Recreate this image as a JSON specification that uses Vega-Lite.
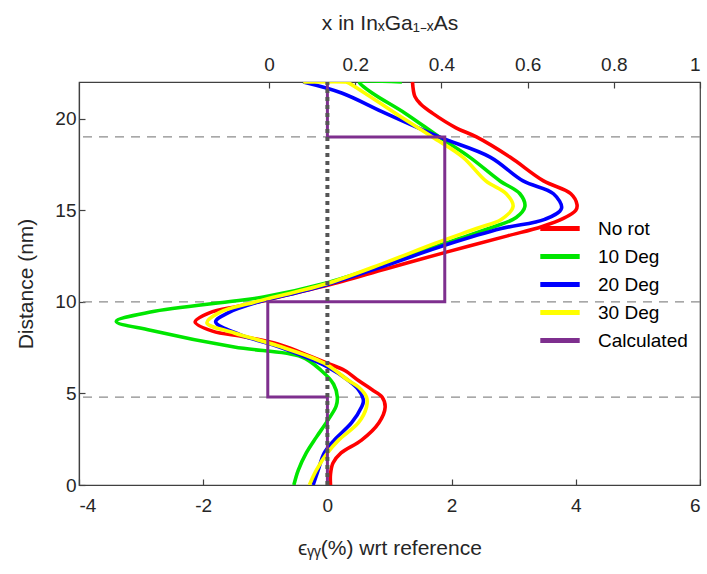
{
  "$schema": "https://vega.github.io/schema/vega-lite/v6.json",
  "width": 621,
  "height": 403,
  "autosize": "none",
  "padding": {"left": 79, "top": 82, "right": 7, "bottom": 89},
  "config": {
    "view": {"stroke": "#404040", "strokeWidth": 1.2},
    "axis": {
      "domainColor": "#404040", "tickColor": "#404040", "labelColor": "#262626", "titleColor": "#262626",
      "labelFont": "Liberation Sans", "titleFont": "Liberation Sans", "labelFontSize": 19, "titleFontSize": 21,
      "titleFontWeight": "normal", "grid": false, "tickSize": -6, "tickWidth": 1.2, "domainWidth": 1.2
    },
    "legend": {
      "orient": "none", "legendX": 468.5, "legendY": 134, "symbolType": "M-1.97,0H1.97", "symbolSize": 400,
      "symbolStrokeWidth": 5, "labelFontSize": 19, "labelFont": "Liberation Sans", "labelColor": "#000000",
      "labelOffset": 25.5, "rowPadding": 5, "padding": 0
    }
  },
  "datasets": {
    "curves": [
      {"s":"No rot","o":0,"x":0.05,"y":0},{"s":"No rot","o":1,"x":0.05,"y":0.6},{"s":"No rot","o":2,"x":0.09,"y":1.2},{"s":"No rot","o":3,"x":0.22,"y":1.75},{"s":"No rot","o":4,"x":0.55,"y":2.45},{"s":"No rot","o":5,"x":0.83,"y":3.4},{"s":"No rot","o":6,"x":0.93,"y":4.25},{"s":"No rot","o":7,"x":0.88,"y":4.8},{"s":"No rot","o":8,"x":0.72,"y":5.2},{"s":"No rot","o":9,"x":0.5,"y":5.7},{"s":"No rot","o":10,"x":0.28,"y":6.25},{"s":"No rot","o":11,"x":0.0,"y":6.65},{"s":"No rot","o":12,"x":-0.4,"y":7.2},{"s":"No rot","o":13,"x":-0.8,"y":7.7},{"s":"No rot","o":14,"x":-1.35,"y":8.1},{"s":"No rot","o":15,"x":-1.85,"y":8.4},{"s":"No rot","o":16,"x":-2.13,"y":8.9},{"s":"No rot","o":17,"x":-1.9,"y":9.4},{"s":"No rot","o":18,"x":-1.45,"y":9.75},{"s":"No rot","o":19,"x":-1.1,"y":10.0},{"s":"No rot","o":20,"x":-0.5,"y":10.5},{"s":"No rot","o":21,"x":0.0,"y":10.9},{"s":"No rot","o":22,"x":0.95,"y":11.8},{"s":"No rot","o":23,"x":1.9,"y":12.7},{"s":"No rot","o":24,"x":2.9,"y":13.6},{"s":"No rot","o":25,"x":3.45,"y":14.1},{"s":"No rot","o":26,"x":3.8,"y":14.55},{"s":"No rot","o":27,"x":4.0,"y":15.0},{"s":"No rot","o":28,"x":4.02,"y":15.3},{"s":"No rot","o":29,"x":3.92,"y":15.9},{"s":"No rot","o":30,"x":3.48,"y":16.6},{"s":"No rot","o":31,"x":2.94,"y":17.9},{"s":"No rot","o":32,"x":2.4,"y":19.0},{"s":"No rot","o":33,"x":2.07,"y":19.5},{"s":"No rot","o":34,"x":1.69,"y":20.3},{"s":"No rot","o":35,"x":1.5,"y":20.8},{"s":"No rot","o":36,"x":1.41,"y":21.2},{"s":"No rot","o":37,"x":1.37,"y":22},
      {"s":"10 Deg","o":0,"x":-0.54,"y":0},{"s":"10 Deg","o":1,"x":-0.47,"y":0.8},{"s":"10 Deg","o":2,"x":-0.34,"y":1.75},{"s":"10 Deg","o":3,"x":-0.18,"y":2.6},{"s":"10 Deg","o":4,"x":0.0,"y":3.5},{"s":"10 Deg","o":5,"x":0.14,"y":4.3},{"s":"10 Deg","o":6,"x":0.16,"y":4.8},{"s":"10 Deg","o":7,"x":0.1,"y":5.5},{"s":"10 Deg","o":8,"x":-0.1,"y":6.25},{"s":"10 Deg","o":9,"x":-0.42,"y":7.0},{"s":"10 Deg","o":10,"x":-1.5,"y":7.53},{"s":"10 Deg","o":11,"x":-2.85,"y":8.45},{"s":"10 Deg","o":12,"x":-3.4,"y":8.93},{"s":"10 Deg","o":13,"x":-2.85,"y":9.44},{"s":"10 Deg","o":14,"x":-1.5,"y":10.04},{"s":"10 Deg","o":15,"x":-1.03,"y":10.26},{"s":"10 Deg","o":16,"x":-0.05,"y":11.0},{"s":"10 Deg","o":17,"x":0.88,"y":12.0},{"s":"10 Deg","o":18,"x":1.9,"y":13.2},{"s":"10 Deg","o":19,"x":2.6,"y":14.0},{"s":"10 Deg","o":20,"x":3.04,"y":14.6},{"s":"10 Deg","o":21,"x":3.18,"y":15.2},{"s":"10 Deg","o":22,"x":3.1,"y":15.9},{"s":"10 Deg","o":23,"x":2.78,"y":16.6},{"s":"10 Deg","o":24,"x":2.29,"y":17.9},{"s":"10 Deg","o":25,"x":1.8,"y":19.0},{"s":"10 Deg","o":26,"x":1.25,"y":20.3},{"s":"10 Deg","o":27,"x":0.72,"y":21.4},{"s":"10 Deg","o":28,"x":0.52,"y":21.95},{"s":"10 Deg","o":29,"x":0.52,"y":22.0},{"s":"10 Deg","o":30,"x":1.2,"y":22.0},
      {"s":"20 Deg","o":0,"x":-0.23,"y":0},{"s":"20 Deg","o":1,"x":-0.15,"y":0.8},{"s":"20 Deg","o":2,"x":-0.05,"y":1.75},{"s":"20 Deg","o":3,"x":0.11,"y":2.45},{"s":"20 Deg","o":4,"x":0.39,"y":3.4},{"s":"20 Deg","o":5,"x":0.55,"y":4.26},{"s":"20 Deg","o":6,"x":0.58,"y":4.6},{"s":"20 Deg","o":7,"x":0.5,"y":5.2},{"s":"20 Deg","o":8,"x":0.34,"y":5.7},{"s":"20 Deg","o":9,"x":0.0,"y":6.45},{"s":"20 Deg","o":10,"x":-0.75,"y":7.5},{"s":"20 Deg","o":11,"x":-1.4,"y":8.2},{"s":"20 Deg","o":12,"x":-1.8,"y":8.9},{"s":"20 Deg","o":13,"x":-1.6,"y":9.4},{"s":"20 Deg","o":14,"x":-1.1,"y":10.0},{"s":"20 Deg","o":15,"x":-0.5,"y":10.5},{"s":"20 Deg","o":16,"x":0.0,"y":10.95},{"s":"20 Deg","o":17,"x":0.95,"y":12.0},{"s":"20 Deg","o":18,"x":1.9,"y":13.1},{"s":"20 Deg","o":19,"x":2.8,"y":14.0},{"s":"20 Deg","o":20,"x":3.5,"y":14.5},{"s":"20 Deg","o":21,"x":3.77,"y":15.1},{"s":"20 Deg","o":22,"x":3.64,"y":15.9},{"s":"20 Deg","o":23,"x":3.15,"y":16.6},{"s":"20 Deg","o":24,"x":2.62,"y":17.9},{"s":"20 Deg","o":25,"x":1.8,"y":19.0},{"s":"20 Deg","o":26,"x":0.93,"y":20.3},{"s":"20 Deg","o":27,"x":0.23,"y":21.4},{"s":"20 Deg","o":28,"x":-0.39,"y":22},
      {"s":"30 Deg","o":0,"x":-0.29,"y":0},{"s":"30 Deg","o":1,"x":-0.18,"y":0.8},{"s":"30 Deg","o":2,"x":0.0,"y":1.75},{"s":"30 Deg","o":3,"x":0.18,"y":2.45},{"s":"30 Deg","o":4,"x":0.5,"y":3.4},{"s":"30 Deg","o":5,"x":0.63,"y":4.26},{"s":"30 Deg","o":6,"x":0.63,"y":4.8},{"s":"30 Deg","o":7,"x":0.5,"y":5.35},{"s":"30 Deg","o":8,"x":0.34,"y":5.7},{"s":"30 Deg","o":9,"x":-0.05,"y":6.65},{"s":"30 Deg","o":10,"x":-0.8,"y":7.6},{"s":"30 Deg","o":11,"x":-1.5,"y":8.3},{"s":"30 Deg","o":12,"x":-1.94,"y":8.85},{"s":"30 Deg","o":13,"x":-1.75,"y":9.4},{"s":"30 Deg","o":14,"x":-1.15,"y":10.0},{"s":"30 Deg","o":15,"x":-0.5,"y":10.55},{"s":"30 Deg","o":16,"x":0.0,"y":11.0},{"s":"30 Deg","o":17,"x":0.9,"y":12.1},{"s":"30 Deg","o":18,"x":1.74,"y":13.2},{"s":"30 Deg","o":19,"x":2.4,"y":14.0},{"s":"30 Deg","o":20,"x":2.8,"y":14.5},{"s":"30 Deg","o":21,"x":2.99,"y":15.2},{"s":"30 Deg","o":22,"x":2.88,"y":15.9},{"s":"30 Deg","o":23,"x":2.55,"y":16.6},{"s":"30 Deg","o":24,"x":2.18,"y":17.9},{"s":"30 Deg","o":25,"x":1.69,"y":19.0},{"s":"30 Deg","o":26,"x":1.09,"y":20.3},{"s":"30 Deg","o":27,"x":0.6,"y":21.4},{"s":"30 Deg","o":28,"x":0.34,"y":21.95},{"s":"30 Deg","o":29,"x":0.3,"y":22.0},{"s":"30 Deg","o":30,"x":-0.39,"y":22.0}
    ],
    "calc": [
      {"s":"Calculated","o":0,"x":0,"y":0},{"s":"Calculated","o":1,"x":0,"y":4.8},{"s":"Calculated","o":2,"x":-0.96,"y":4.8},{"s":"Calculated","o":3,"x":-0.96,"y":10},{"s":"Calculated","o":4,"x":1.89,"y":10},{"s":"Calculated","o":5,"x":1.89,"y":19},{"s":"Calculated","o":6,"x":0,"y":19},{"s":"Calculated","o":7,"x":0,"y":22}
    ],
    "ref": [{"x":0,"y":0},{"x":0,"y":22}],
    "dash": [{"h":4.8},{"h":10},{"h":19}],
    "top": [{"t":0},{"t":1}]
  },
  "layer": [
    {
      "layer": [
        {
          "data": {"name": "dash"},
          "mark": {"type": "rule", "color": "#8c8c8c", "strokeWidth": 1.3, "strokeDash": [9, 7]},
          "encoding": {
            "y": {"field": "h", "type": "quantitative", "scale": {"domain": [0, 22], "nice": false, "zero": false}}
          }
        },
        {
          "data": {"name": "curves"},
          "mark": {"type": "line", "strokeWidth": 3.6, "interpolate": "catmull-rom", "clip": true},
          "encoding": {
            "x": {"field": "x", "type": "quantitative", "scale": {"domain": [-4, 6], "nice": false, "zero": false},
                  "axis": {"orient": "bottom", "values": [-4, -2, 0, 2, 4, 6], "labelExpr": "'' + datum.value", "title": "ϵᵧᵧ(%) wrt reference", "labelPadding": 17, "titlePadding": 22}},
            "y": {"field": "y", "type": "quantitative", "scale": {"domain": [0, 22], "nice": false, "zero": false},
                  "axis": {"values": [0, 5, 10, 15, 20], "title": "Distance (nm)", "labelPadding": 9, "titlePadding": 18}},
            "color": {"field": "s", "type": "nominal",
                      "scale": {"domain": ["No rot", "10 Deg", "20 Deg", "30 Deg", "Calculated"],
                                "range": ["#ff0000", "#00e600", "#0000ff", "#ffff00", "#7e2f8e"]},
                      "legend": {"title": null}},
            "order": {"field": "o", "type": "quantitative"}
          }
        },
        {
          "data": {"name": "calc"},
          "mark": {"type": "line", "strokeWidth": 3, "clip": true},
          "encoding": {
            "x": {"field": "x", "type": "quantitative"},
            "y": {"field": "y", "type": "quantitative"},
            "color": {"field": "s", "type": "nominal"},
            "order": {"field": "o", "type": "quantitative"}
          }
        },
        {
          "data": {"name": "ref"},
          "mark": {"type": "line", "strokeWidth": 4, "color": "#555555", "strokeDash": [4, 4], "clip": true},
          "encoding": {
            "x": {"field": "x", "type": "quantitative"},
            "y": {"field": "y", "type": "quantitative"}
          }
        }
      ]
    },
    {
      "data": {"name": "top"},
      "mark": {"type": "point", "opacity": 0},
      "encoding": {
        "x": {"field": "t", "type": "quantitative", "scale": {"domain": [-0.441, 1.0], "nice": false, "zero": false},
              "axis": {"orient": "top", "values": [0, 0.2, 0.4, 0.6, 0.8, 1], "format": "~g", "title": "x in InₓGa₁₋ₓAs", "labelPadding": 14, "titlePadding": 22}}
      }
    }
  ],
  "resolve": {"scale": {"x": "independent"}}
}
